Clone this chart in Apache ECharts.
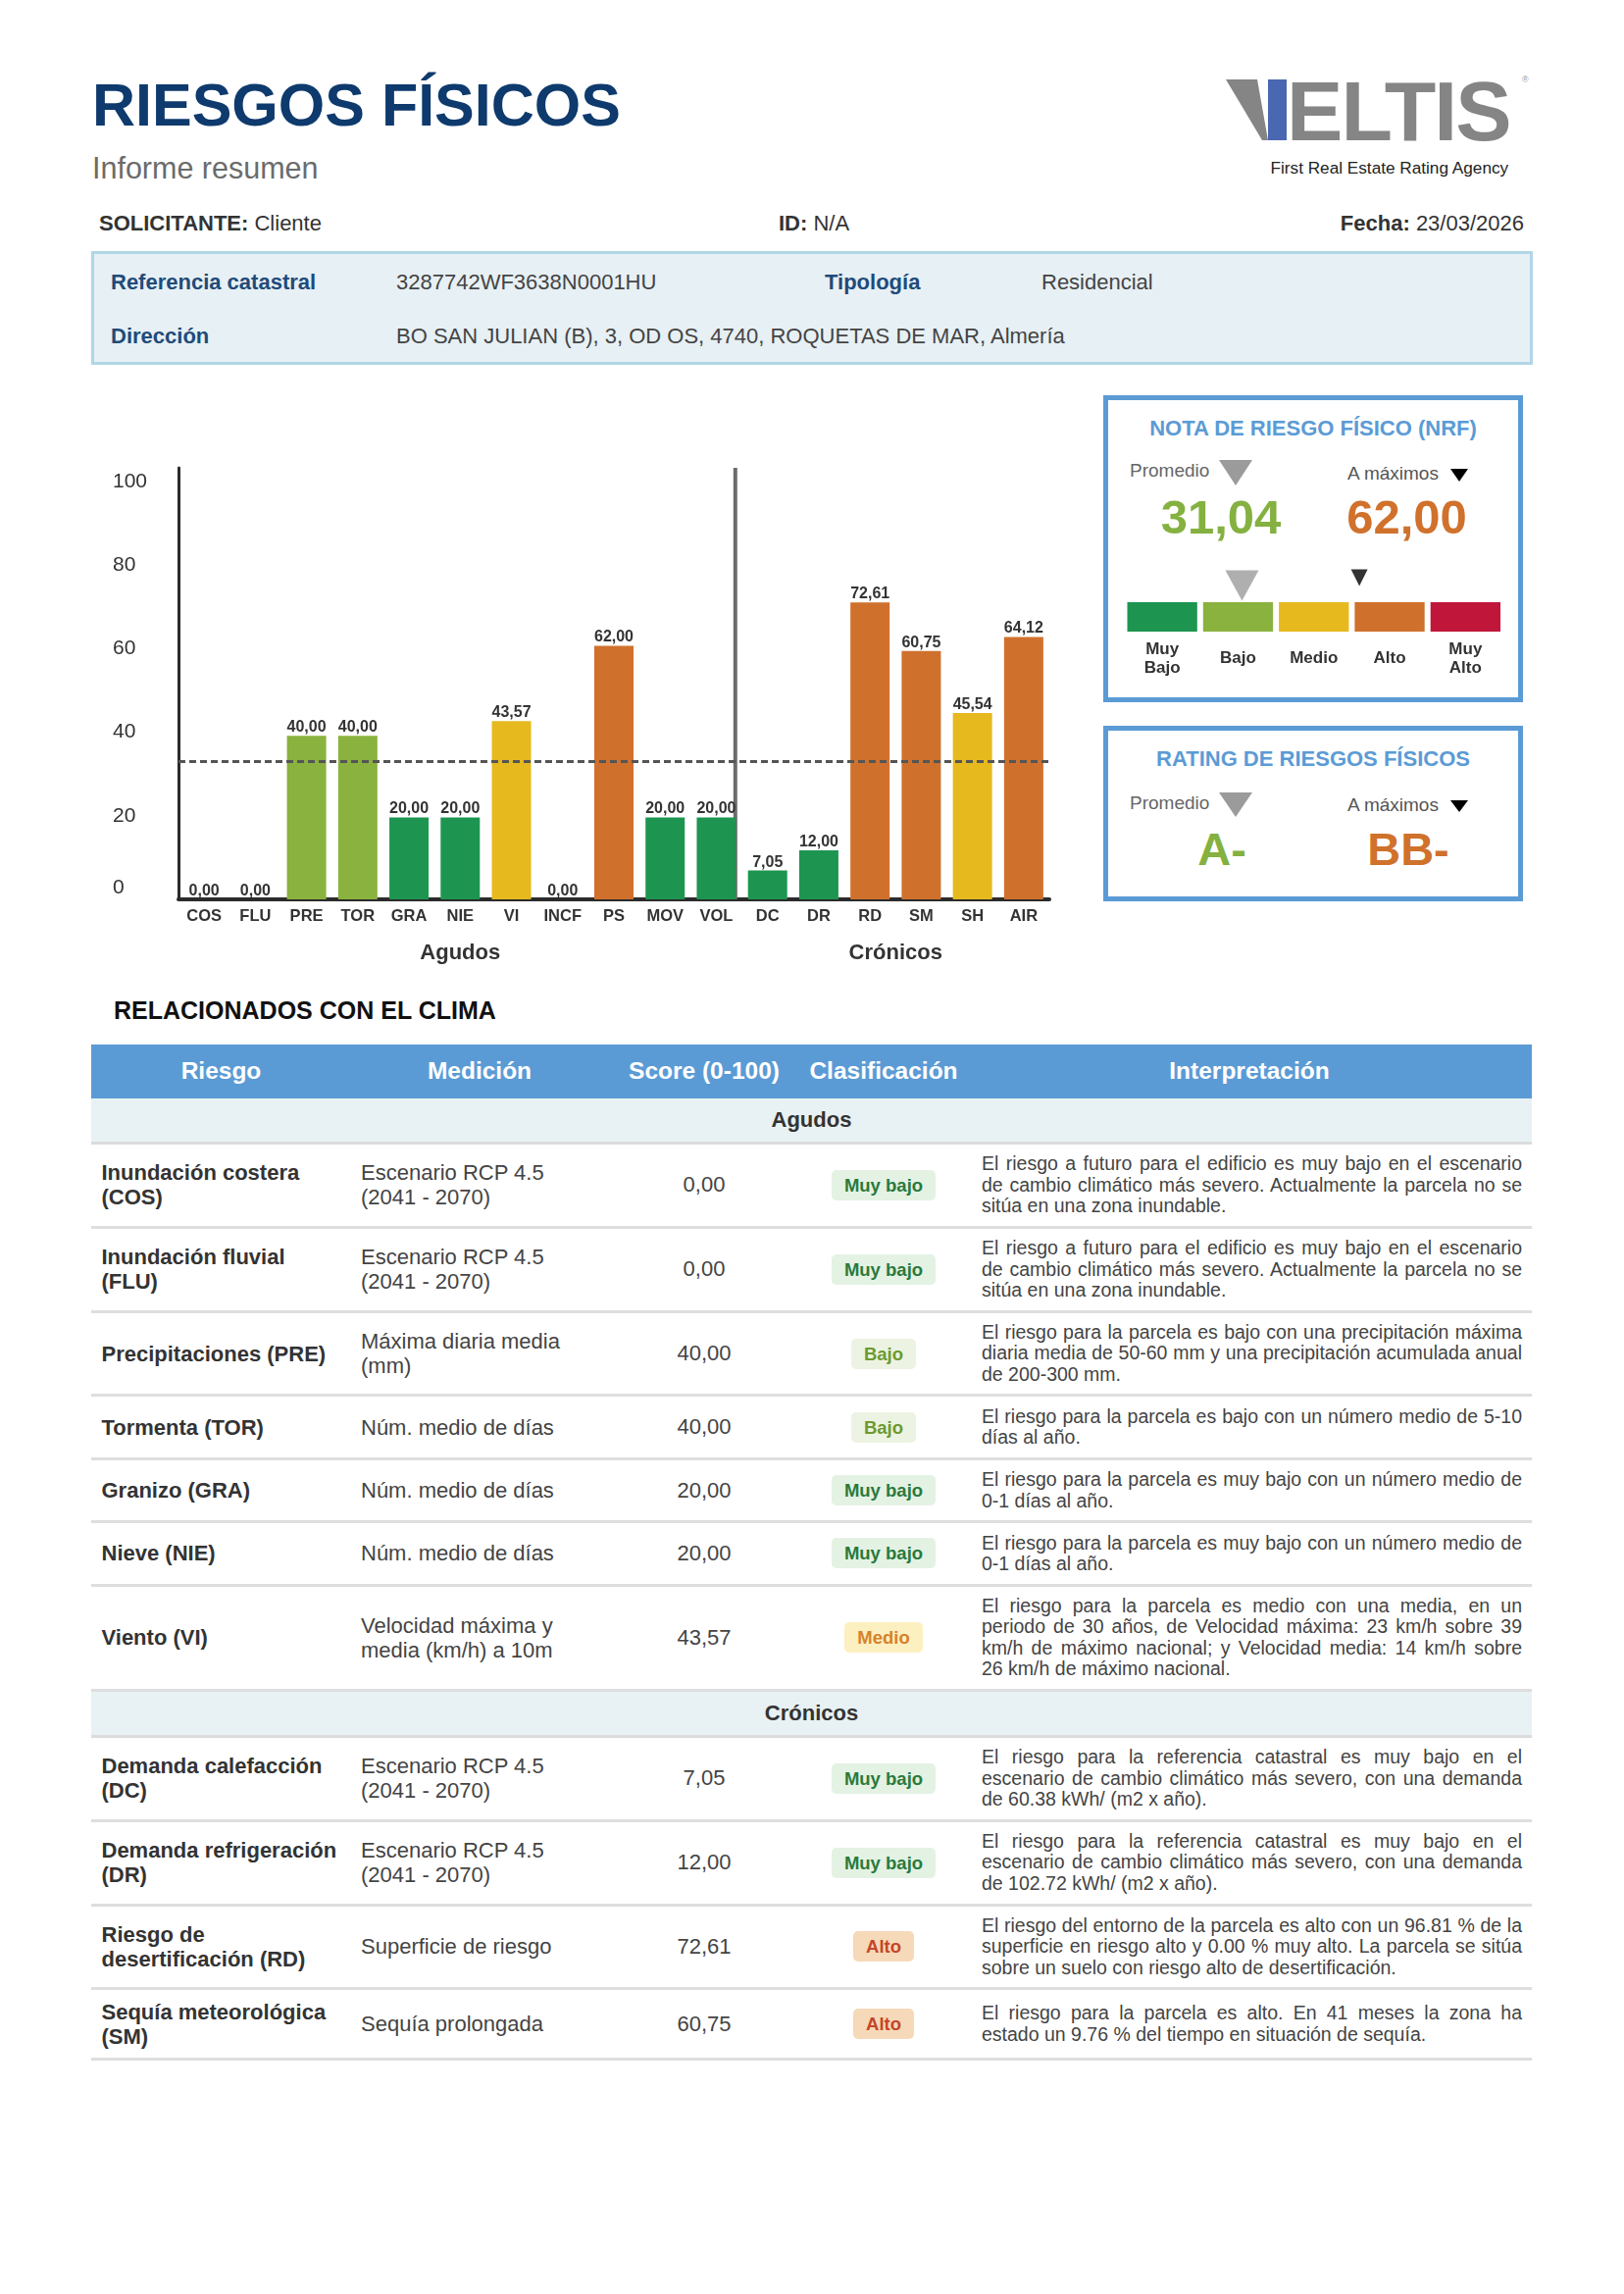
<!DOCTYPE html>
<html lang="es"><head><meta charset="utf-8">
<script src="https://cdn.jsdelivr.net/npm/echarts@6/dist/echarts.min.js"></script>
<style>
html,body{margin:0;padding:0;background:#fff;}
body{width:1656px;height:2339px;position:relative;font-family:'Liberation Sans',Arial,Helvetica,sans-serif;color:#333;overflow:hidden;}
.abs{position:absolute;white-space:nowrap;}
.box{position:absolute;box-sizing:border-box;border:5px solid #5b9bd5;background:#fff;}
.btitle{position:absolute;text-align:center;font-size:22px;line-height:26px;font-weight:bold;color:#5b9bd5;}
.sm{font-size:19px;line-height:24px;color:#666;}
.big{position:absolute;width:220px;text-align:center;font-weight:bold;white-space:nowrap;}
#table{position:absolute;left:93px;top:1064.5px;width:1469px;}
.hrow{display:flex;height:55.5px;background:#5b9bd5;color:#fff;font-weight:bold;font-size:24.5px;align-items:center;}
.grow{height:47px;box-sizing:border-box;background:#e8f1f4;border-bottom:3px solid #dcdcdc;text-align:center;font-weight:bold;font-size:22px;line-height:44px;color:#333;}
.row{display:flex;align-items:center;box-sizing:border-box;border-bottom:3px solid #dedede;padding:9.3px 0;}
.c1{width:265px;box-sizing:border-box;padding:0 10px 0 10.5px;font-weight:bold;font-size:22px;line-height:25px;color:#333;}
.c2{width:262px;box-sizing:border-box;padding:0 20px 0 10px;font-size:22px;line-height:25px;color:#444;}
.c3{width:196px;text-align:center;font-size:22px;color:#444;}
.c4{width:170px;text-align:center;}
.c5{width:576px;box-sizing:border-box;padding:0 10px 0 15px;font-size:19.5px;line-height:21.4px;color:#444;text-align:justify;}
.hrow div{text-align:center;padding:0;}
.badge{display:inline-block;height:31px;line-height:31px;padding:0 13px;border-radius:5px;font-weight:bold;font-size:18.5px;}
</style></head>
<body>
<div class="abs" style="left:94px;top:77px;font-size:61px;line-height:61px;font-weight:bold;color:#0e3a6d;">RIESGOS FÍSICOS</div>
<div class="abs" style="left:94px;top:156px;font-size:30.5px;line-height:30px;color:#6b6b6b;">Informe resumen</div>

<svg class="abs" style="left:1245px;top:74px" width="70" height="75">
  <polygon points="5,7 37,7 48,69 42,69" fill="#858585"/>
  <rect x="48" y="7" width="19" height="62" fill="#4a67b1"/>
</svg>
<div class="abs" style="left:1312px;top:80px;font-size:86px;line-height:66px;height:66px;font-weight:bold;color:#858585;letter-spacing:-1.9px;">ELTIS</div>
<div class="abs" style="left:1552px;top:76px;font-size:9px;line-height:10px;color:#999;">®</div>
<div class="abs" style="left:1295.5px;top:161px;font-size:17.2px;line-height:20px;color:#222;">First Real Estate Rating Agency</div>

<div class="abs" style="left:101px;top:215px;font-size:22px;line-height:26px;color:#333;"><b>SOLICITANTE:</b> Cliente</div>
<div class="abs" style="left:794px;top:215px;font-size:22px;line-height:26px;color:#333;"><b>ID:</b> N/A</div>
<div class="abs" style="right:102px;top:215px;font-size:22px;line-height:26px;color:#333;"><b>Fecha:</b> 23/03/2026</div>

<div style="position:absolute;left:93px;top:256px;width:1470px;height:116px;box-sizing:border-box;border:3px solid #b1d6e6;background:#e7f0f4;"></div>
<div class="abs" style="left:113px;top:275px;font-size:22px;line-height:26px;font-weight:bold;color:#1f4b7a;">Referencia catastral</div>
<div class="abs" style="left:404px;top:275px;font-size:22px;line-height:26px;color:#444;">3287742WF3638N0001HU</div>
<div class="abs" style="left:841px;top:275px;font-size:22px;line-height:26px;font-weight:bold;color:#1f4b7a;">Tipología</div>
<div class="abs" style="left:1062px;top:275px;font-size:22px;line-height:26px;color:#444;">Residencial</div>
<div class="abs" style="left:113px;top:330px;font-size:22px;line-height:26px;font-weight:bold;color:#1f4b7a;">Dirección</div>
<div class="abs" style="left:404px;top:330px;font-size:22px;line-height:26px;color:#444;">BO SAN JULIAN (B), 3, OD OS, 4740, ROQUETAS DE MAR, Almería</div>

<div id="chart" style="position:absolute;left:0;top:440px;width:1110px;height:570px;"></div>

<div class="box" style="left:1125px;top:403px;width:428px;height:313px;"></div>
<div class="abs btitle" style="left:1125px;width:428px;top:423.5px;">NOTA DE RIESGO FÍSICO (NRF)</div>
<div class="abs sm" style="left:1152px;top:468px;">Promedio</div>
<svg class="abs" style="left:1243px;top:469px" width="34" height="26"><polygon points="0,0 34,0 17,26" fill="#9b9b9b"/></svg>
<div class="abs sm" style="left:1374px;top:471px;color:#555;">A máximos</div>
<svg class="abs" style="left:1479px;top:478px" width="18" height="13"><polygon points="0,0 18,0 9,13" fill="#000"/></svg>
<div id="nrfAvg" class="big" style="left:1135px;top:501.5px;font-size:49px;line-height:50px;color:#84b140;"></div>
<div id="nrfMax" class="big" style="left:1324.5px;top:501.5px;font-size:49px;line-height:50px;color:#d0712c;"></div>
<div id="scale" style="position:absolute;left:1130px;top:560px;width:420px;height:150px;"></div>

<div class="box" style="left:1125px;top:740px;width:428px;height:178.5px;"></div>
<div class="abs btitle" style="left:1125px;width:428px;top:761px;">RATING DE RIESGOS FÍSICOS</div>
<div class="abs sm" style="left:1152px;top:807px;">Promedio</div>
<svg class="abs" style="left:1243px;top:808px" width="34" height="25"><polygon points="0,0 34,0 17,25" fill="#9b9b9b"/></svg>
<div class="abs sm" style="left:1374px;top:809px;color:#555;">A máximos</div>
<svg class="abs" style="left:1479px;top:816px" width="18" height="12"><polygon points="0,0 18,0 9,12" fill="#000"/></svg>
<div id="ratAvg" class="big" style="left:1136px;top:840.5px;font-size:47px;line-height:50px;color:#84b140;"></div>
<div id="ratMax" class="big" style="left:1326px;top:840.5px;font-size:47px;line-height:50px;color:#d0712c;"></div>

<div class="abs" style="left:116px;top:1015px;font-size:25px;line-height:30px;font-weight:bold;color:#111;">RELACIONADOS CON EL CLIMA</div>

<div id="table"></div>

<script>
// ---------- chart data ----------
const categories = ['COS','FLU','PRE','TOR','GRA','NIE','VI','INCF','PS','MOV','VOL','DC','DR','RD','SM','SH','AIR'];
const scores = [0,0,40,40,20,20,43.57,0,62,20,20,7.05,12,72.61,60.75,45.54,64.12];
const groupNames = ['Agudos','Crónicos'];
const groupSizes = [11,6];
const referenceLine = 33.7;
const yTickValues = [0,20,40,60,80,100];
const levelBreaks = [0,20,40,60,80,100];
const levelNames = ['Muy\nBajo','Bajo','Medio','Alto','Muy\nAlto'];
const levelColors = ['#1d9550','#8ab23e','#e6b91e','#cf712d','#c0163a'];
const nrfAverage = 31.04;
const nrfMaximum = 62.00;
const ratingAverage = 'A-';
const ratingMaximum = 'BB-';

// ---------- table data ----------
const tableHeaders = ['Riesgo','Medición','Score (0-100)','Clasificación','Interpretación'];
const rowGroups = ['Agudos','Agudos','Agudos','Agudos','Agudos','Agudos','Agudos','Crónicos','Crónicos','Crónicos','Crónicos'];
const riskNames = ['Inundación costera (COS)','Inundación fluvial (FLU)','Precipitaciones (PRE)','Tormenta (TOR)','Granizo (GRA)','Nieve (NIE)','Viento (VI)','Demanda calefacción (DC)','Demanda refrigeración (DR)','Riesgo de desertificación (RD)','Sequía meteorológica (SM)'];
const measures = ['Escenario RCP 4.5 (2041 - 2070)','Escenario RCP 4.5 (2041 - 2070)','Máxima diaria media (mm)','Núm. medio de días','Núm. medio de días','Núm. medio de días','Velocidad máxima y media (km/h) a 10m','Escenario RCP 4.5 (2041 - 2070)','Escenario RCP 4.5 (2041 - 2070)','Superficie de riesgo','Sequía prolongada'];
const tableScores = [0,0,40,40,20,20,43.57,7.05,12,72.61,60.75];
const classes = ['Muy bajo','Muy bajo','Bajo','Bajo','Muy bajo','Muy bajo','Medio','Muy bajo','Muy bajo','Alto','Alto'];
const interpretations = [
 'El riesgo a futuro para el edificio es muy bajo en el escenario de cambio climático más severo. Actualmente la parcela no se sitúa en una zona inundable.',
 'El riesgo a futuro para el edificio es muy bajo en el escenario de cambio climático más severo. Actualmente la parcela no se sitúa en una zona inundable.',
 'El riesgo para la parcela es bajo con una precipitación máxima diaria media de 50-60 mm y una precipitación acumulada anual de 200-300 mm.',
 'El riesgo para la parcela es bajo con un número medio de 5-10 días al año.',
 'El riesgo para la parcela es muy bajo con un número medio de 0-1 días al año.',
 'El riesgo para la parcela es muy bajo con un número medio de 0-1 días al año.',
 'El riesgo para la parcela es medio con una media, en un periodo de 30 años, de Velocidad máxima: 23 km/h sobre 39 km/h de máximo nacional; y Velocidad media: 14 km/h sobre 26 km/h de máximo nacional.',
 'El riesgo para la referencia catastral es muy bajo en el escenario de cambio climático más severo, con una demanda de 60.38 kWh/ (m2 x año).',
 'El riesgo para la referencia catastral es muy bajo en el escenario de cambio climático más severo, con una demanda de 102.72 kWh/ (m2 x año).',
 'El riesgo del entorno de la parcela es alto con un 96.81 % de la superficie en riesgo alto y 0.00 % muy alto. La parcela se sitúa sobre un suelo con riesgo alto de desertificación.',
 'El riesgo para la parcela es alto. En 41 meses la zona ha estado un 9.76 % del tiempo en situación de sequía.'
];
const badgeStyles = {
 'Muy bajo': ['#e4f2e4','#2a7a3b'],
 'Bajo': ['#edf3e2','#6d9a2f'],
 'Medio': ['#fdf0c0','#d5832b'],
 'Alto': ['#f6d9b9','#c4462a']
};

const fmt = v => v.toFixed(2).replace('.', ',');
const FONT = "'Liberation Sans', Arial, sans-serif";
function levelIndex(v){
  for (let i = 1; i < levelBreaks.length; i++) if (v <= levelBreaks[i]) return i - 1;
  return levelBreaks.length - 2;
}

// ---------- main bar chart ----------
const yMax = 105.5;
const labelAxisMax = 103.3;
const chart = echarts.init(document.getElementById('chart'));
chart.setOption({
  animation: false,
  grid: {left: 182, right: 40, top: 37, bottom: 93},
  xAxis: [
    {type: 'category', data: categories,
     axisLine: {lineStyle: {color: '#2b2b2b', width: 4}},
     axisTick: {show: false},
     axisLabel: {interval: 0, margin: 9, fontFamily: FONT, fontWeight: 'bold', fontSize: 16.5, color: '#333'}},
    {type: 'value', min: 0, max: categories.length, show: false}
  ],
  yAxis: [
    {type: 'value', min: 0, max: yMax, interval: 20,
     axisLine: {show: true, lineStyle: {color: '#2b2b2b', width: 3}},
     axisTick: {show: false}, splitLine: {show: false}, axisLabel: {show: false}},
    {type: 'value', position: 'left', min: 0, max: labelAxisMax, interval: 20,
     axisLine: {show: false}, axisTick: {show: false}, splitLine: {show: false},
     axisLabel: {align: 'left', margin: 67, fontFamily: FONT, fontSize: 21, color: '#333', lineHeight: 24,
       formatter: v => v === 0 ? '0\n ' : (yTickValues.indexOf(v) >= 0 ? String(v) : '')}}
  ],
  series: [
    {type: 'bar', barWidth: 40,
     data: scores.map(v => ({value: v, itemStyle: {color: levelColors[levelIndex(v)]}})),
     label: {show: true, position: 'top', distance: 0.5, formatter: p => fmt(p.value),
             fontFamily: FONT, fontWeight: 'bold', fontSize: 16, color: '#333'},
     markLine: {silent: true, symbol: 'none', label: {show: false},
       lineStyle: {type: [7, 4], color: '#555', width: 3},
       data: [{yAxis: referenceLine}]}},
    {type: 'line', xAxisIndex: 1, yAxisIndex: 0, silent: true, symbol: 'none', z: 1,
     data: [[groupSizes[0] - 0.13, 0], [groupSizes[0] - 0.13, yMax]],
     lineStyle: {color: '#6b6b6b', width: 4}}
  ]
});
const gY = 532;
let start = 0;
const groupGraphics = groupNames.map((g, i) => {
  const cx = chart.convertToPixel({xAxisIndex: 1}, start + groupSizes[i] / 2);
  start += groupSizes[i];
  return {type: 'text', x: cx, y: gY, style: {text: g, fill: '#333', font: "bold 22px 'Liberation Sans', Arial, sans-serif", textAlign: 'center', textVerticalAlign: 'middle'}};
});
chart.setOption({graphic: groupGraphics});

// ---------- NRF numbers ----------
document.getElementById('nrfAvg').textContent = fmt(nrfAverage);
document.getElementById('nrfMax').textContent = fmt(nrfMaximum);
document.getElementById('ratAvg').textContent = ratingAverage;
document.getElementById('ratMax').textContent = ratingMaximum;

// ---------- NRF colour scale ----------
const scale = echarts.init(document.getElementById('scale'));
const scaleSeries = levelNames.map((n, i) => ({
  type: 'bar', stack: 'scale', barWidth: 36,
  data: [levelBreaks[i + 1] - levelBreaks[i]],
  itemStyle: {color: levelColors[i], borderColor: '#fff', borderWidth: 3},
  label: {show: true, position: 'bottom', formatter: n, distance: n.indexOf('\n') >= 0 ? 5.5 : 15,
          fontFamily: FONT, fontWeight: 'bold', fontSize: 17, lineHeight: 19, color: '#333', align: 'center'}
}));
scaleSeries.push({type: 'scatter', data: [[nrfAverage, 0]], symbol: 'triangle', symbolRotate: 180,
  symbolSize: [34, 31], symbolOffset: [0, -32], itemStyle: {color: '#9b9b9b'}, z: 5});
scaleSeries.push({type: 'scatter', data: [[nrfMaximum, 0]], symbol: 'triangle', symbolRotate: 180,
  symbolSize: [17, 17], symbolOffset: [0, -40], itemStyle: {color: '#000'}, z: 5});
scale.setOption({
  animation: false,
  grid: {left: 16.5, right: 17, top: 51, height: 36},
  xAxis: {type: 'value', min: 0, max: 100, show: false},
  yAxis: {type: 'category', data: ['NRF'], show: false},
  series: scaleSeries
});

// ---------- table ----------
const tbl = document.getElementById('table');
let html = '<div class="hrow">';
const widths = [265, 262, 196, 170, 576];
tableHeaders.forEach((h, i) => { html += '<div style="width:' + widths[i] + 'px">' + h + '</div>'; });
html += '</div>';
let prev = null;
riskNames.forEach((r, i) => {
  if (rowGroups[i] !== prev) { html += '<div class="grow">' + rowGroups[i] + '</div>'; prev = rowGroups[i]; }
  const b = badgeStyles[classes[i]];
  html += '<div class="row">' +
    '<div class="c1">' + r + '</div>' +
    '<div class="c2">' + measures[i] + '</div>' +
    '<div class="c3">' + fmt(tableScores[i]) + '</div>' +
    '<div class="c4"><span class="badge" style="background:' + b[0] + ';color:' + b[1] + '">' + classes[i] + '</span></div>' +
    '<div class="c5">' + interpretations[i] + '</div></div>';
});
tbl.innerHTML = html;
</script>
</body></html>
